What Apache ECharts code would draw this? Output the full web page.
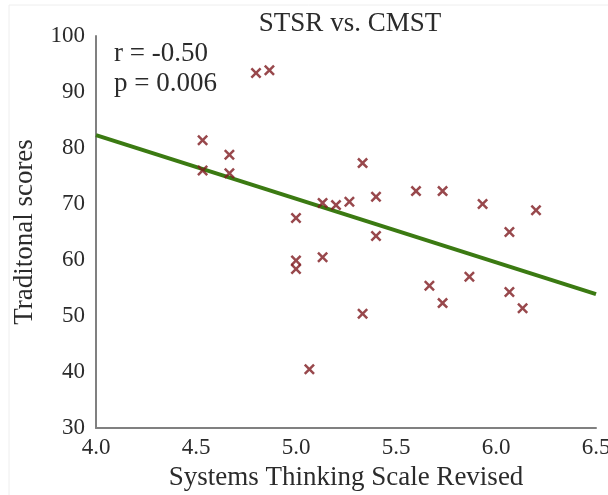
<!DOCTYPE html>
<html>
<head>
<meta charset="utf-8">
<script src="https://cdn.jsdelivr.net/npm/echarts@6/dist/echarts.min.js"></script>
<style>
html, body { margin: 0; padding: 0; background: #fff; }
#chart { width: 608px; height: 495px; }
</style>
</head>
<body>
<div id="chart"></div>
<script>
// STSR scores (x) and CMST traditional scores (y)
var stsr = [4.533, 4.533, 4.667, 4.667, 4.8, 4.867, 5.0, 5.0, 5.0, 5.067,
            5.133, 5.133, 5.2, 5.267, 5.333, 5.4, 5.4, 5.333, 5.6, 5.733,
            5.667, 5.733, 5.933, 5.867, 6.067, 6.2, 6.067, 6.133];
var cmst = [81.4, 76.0, 78.8, 75.5, 93.4, 93.9, 67.5, 59.9, 58.4, 40.5,
            60.5, 70.2, 69.8, 70.4, 77.3, 71.3, 64.3, 50.4, 72.3, 72.3,
            55.4, 52.3, 70.0, 57.0, 65.0, 68.9, 54.3, 51.4];

// fitted line end points
var fitX = [4.0, 6.5];
var fitY = [82.3, 53.9];

var serif = '"Liberation Serif", "DejaVu Serif", serif';
var textColor = '#2b2b2b';
var crossPath = 'path://M0,1.6L1.6,0L5,3.4L8.4,0L10,1.6L6.6,5L10,8.4L8.4,10L5,6.6L1.6,10L0,8.4L3.4,5Z';

var points = [];
for (var i = 0; i < stsr.length; i++) {
    points.push([stsr[i], cmst[i]]);
}
var fitLine = [];
for (var j = 0; j < fitX.length; j++) {
    fitLine.push([fitX[j], fitY[j]]);
}

var chart = echarts.init(document.getElementById('chart'));
chart.setOption({
    backgroundColor: '#fff',
    animation: false,
    title: {
        text: 'STSR vs. CMST',
        left: 345,
        textAlign: 'center',
        top: 5,
        textStyle: { fontFamily: serif, fontSize: 27, fontWeight: 'normal', color: textColor }
    },
    graphic: [
        { type: 'line', shape: { x1: 9, y1: 5, x2: 608, y2: 5 }, style: { stroke: '#eee', lineWidth: 1 } },
        { type: 'line', shape: { x1: 9, y1: 5, x2: 9, y2: 495 }, style: { stroke: '#eee', lineWidth: 1 } },
        {
            type: 'text', left: 114, top: 39,
            style: { text: 'r = -0.50\np = 0.006', font: '27px ' + serif, fill: textColor, lineHeight: 30 }
        }
    ],
    grid: { left: 96, right: 12, top: 36, bottom: 67, containLabel: false, outerBoundsMode: 'none' },
    xAxis: {
        type: 'value',
        min: 4.0, max: 6.5, interval: 0.5,
        name: 'Systems Thinking Scale Revised',
        nameLocation: 'middle',
        nameGap: 36,
        nameTextStyle: { fontFamily: serif, fontSize: 27, color: textColor },
        axisLine: { lineStyle: { color: '#808080', width: 2 } },
        axisTick: { show: false },
        splitLine: { show: false },
        axisLabel: {
            fontFamily: serif, fontSize: 23, color: textColor, margin: 8,
            formatter: function (v) { return v.toFixed(1); }
        }
    },
    yAxis: {
        type: 'value',
        min: 30, max: 100, interval: 10,
        name: 'Traditonal scores',
        nameLocation: 'middle',
        nameGap: 58,
        nameTextStyle: { fontFamily: serif, fontSize: 27, color: textColor },
        axisLine: { show: true, lineStyle: { color: '#808080', width: 2 } },
        axisTick: { show: false },
        splitLine: { show: false },
        axisLabel: { fontFamily: serif, fontSize: 23, color: textColor, margin: 11 }
    },
    series: [
        {
            type: 'line',
            data: fitLine,
            symbol: 'none',
            lineStyle: { color: '#3b7a12', width: 4 },
            z: 2
        },
        {
            type: 'scatter',
            data: points,
            symbol: crossPath,
            symbolSize: 11,
            itemStyle: { color: '#7e1a1f' },
            z: 3
        }
    ]
});
</script>
</body>
</html>
